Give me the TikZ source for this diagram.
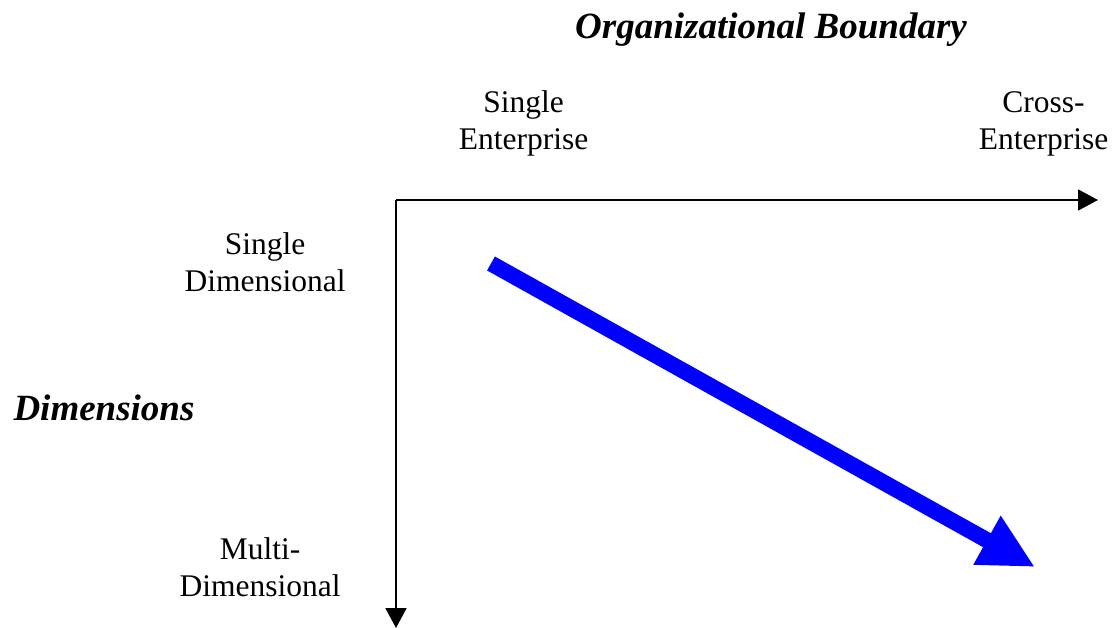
\documentclass[tikz,border=0pt]{standalone}
\usepackage{fontspec}
\setmainfont{Liberation Serif}
\usepackage{xcolor}
\usepackage{tikz}
\usetikzlibrary{arrows.meta,positioning}
\definecolor{dblue}{RGB}{0,0,255}
\definecolor{dink}{RGB}{0,0,0}

\begin{document}
\begin{tikzpicture}[x=1pt,y=-1pt,
    every node/.style={inner sep=0pt,text=dink},
    lbl/.style={align=center,font=\fontsize{31.5}{37}\selectfont},
    heading/.style={anchor=base,font=\fontsize{37}{42}\selectfont\bfseries\itshape},
    axis/.style={-{Triangle[length=20pt,width=21pt]},line width=1.8pt,dink},
    trend/.style={-{Triangle[length=55pt,width=52pt]},line width=16pt,dblue}]
  \useasboundingbox (0,0) rectangle (1113,628);

  % axes
  \coordinate (origin) at (396,200);
  \coordinate (xend)   at (1098,200);
  \coordinate (yend)   at (396,628);
  \draw[axis] (origin) -- (xend);
  \draw[axis] (origin) -- (yend);

  % axis titles
  \node[heading] (orgb) at (771,39)  {Organizational Boundary};
  \node[heading] (dims) at (104,420) {Dimensions};

  % tick labels
  \node[lbl] (single)  at (523.5,123.5)  {Single\\Enterprise};
  \node[lbl] (cross)   at (1043.5,123.5) {Cross-\\Enterprise};
  \node[lbl] (onedim)  at (265,262)      {Single\\Dimensional};
  \node[lbl] (multi)   at (260,567)      {Multi-\\Dimensional};

  % direction of change
  \coordinate (from) at (491,263.5);
  \coordinate (to)   at (1035,567);
  \draw[trend] (from) -- (to);
\end{tikzpicture}
\end{document}
